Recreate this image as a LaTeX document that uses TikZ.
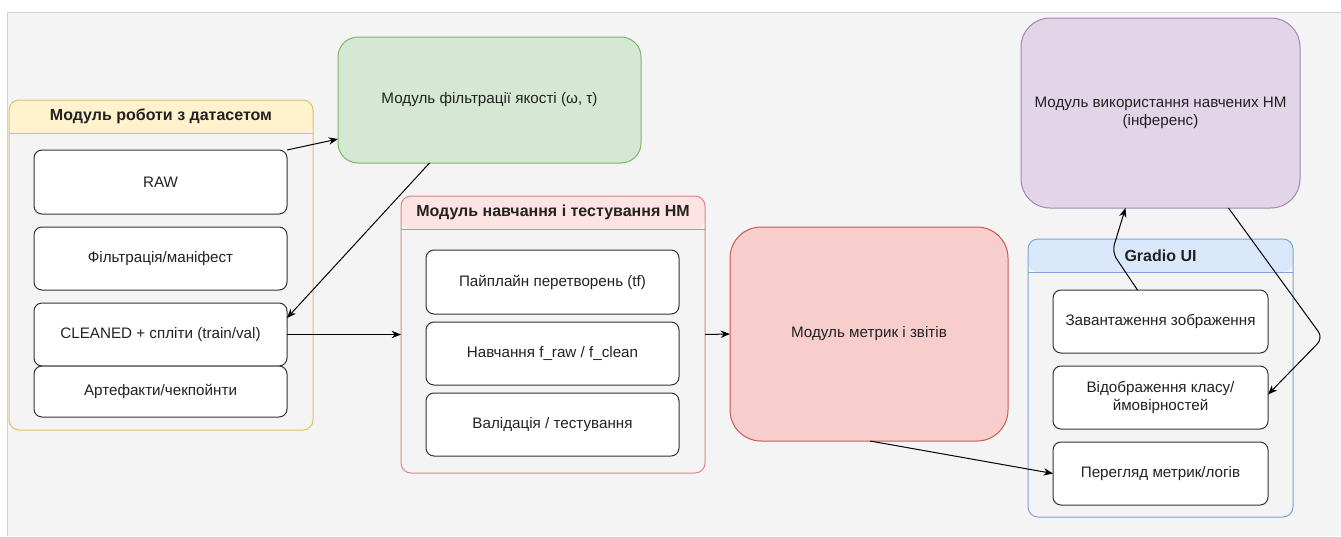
\documentclass[tikz,border=0pt]{standalone}
\usepackage{fontspec}
\setmainfont{Liberation Sans}
\usetikzlibrary{arrows.meta,calc}

\definecolor{canvasbg}{HTML}{F4F4F4}
\definecolor{canvasline}{HTML}{D0D0D0}
\definecolor{textc}{HTML}{222222}
\definecolor{boxline}{HTML}{333333}
\definecolor{dsfill}{HTML}{FFF2CC}
\definecolor{dsline}{HTML}{E2C264}
\definecolor{grfill}{HTML}{D5E8D4}
\definecolor{grline}{HTML}{82B366}
\definecolor{trfill}{HTML}{FDE3E3}
\definecolor{trline}{HTML}{E08585}
\definecolor{mtfill}{HTML}{F8CECC}
\definecolor{mtline}{HTML}{C85A55}
\definecolor{pufill}{HTML}{E1D5E7}
\definecolor{puline}{HTML}{A385B5}
\definecolor{uifill}{HTML}{DAE8FC}
\definecolor{uiline}{HTML}{7FA3D6}

\newcommand{\txtsize}{\fontsize{11.4}{13.6}\selectfont}
\newcommand{\ttlsize}{\fontsize{12}{14}\selectfont}

\tikzset{
  every node/.style={font=\txtsize, text=textc, align=center, inner sep=0pt, outer sep=0pt},
  itembox/.style args={#1x#2}{draw=boxline, line width=0.75pt, fill=white,
    rounded corners=6pt, minimum width=#1*0.75pt, minimum height=#2*0.75pt},
  module/.style n args={3}{line width=0.75pt, rounded corners=#3*0.75pt,
    minimum width=#1*0.75pt, minimum height=#2*0.75pt},
  lane/.style n args={4}{draw=#2, line width=0.75pt, rounded corners=7.5pt,
    minimum width=#3*0.75pt, minimum height=#4*0.75pt,
    path picture={\fill[#1] (path picture bounding box.north west) rectangle
      ([yshift=-33*0.75pt]path picture bounding box.north east);
      \draw[#2, line width=0.75pt] ([yshift=-33*0.75pt]path picture bounding box.north west) --
      ([yshift=-33*0.75pt]path picture bounding box.north east);}},
  lanetitle/.style={font=\ttlsize\bfseries},
  flow/.style={draw=black, line width=0.75pt, -{Stealth[length=7pt,width=5.5pt]}},
}

\begin{document}
\begin{tikzpicture}[x=0.75pt, y=-0.75pt]
\useasboundingbox (0,0) rectangle (1341,536);
\fill[white] (0,0) rectangle (1341,536);
\fill[canvasbg] (7,12) rectangle (1341,536);
\draw[canvasline, line width=0.75pt] (7,536) -- (7,12) -- (1341,12);

% dataset lane
\node[lane={dsfill}{dsline}{304}{330}] (ds) at (161,265) {};
\node[lanetitle] (dstitle) at (161,116.5) {Модуль роботи з датасетом};
\node[itembox=253x64] (raw) at (160.5,182) {RAW};
\node[itembox=253x63] (filt) at (160.5,258.5) {Фільтрація/маніфест};
\node[itembox=253x63] (clean) at (160.5,334.5) {CLEANED + спліти (train/val)};
\node[itembox=253x51] (art) at (160.5,391.5) {Артефакти/чекпойнти};

% quality filter module
\node[module={303}{126}{20}, draw=grline, fill=grfill] (qual) at (489.5,100) {Модуль фільтрації якості (ω, τ)};

% training lane
\node[lane={trfill}{trline}{304}{277}] (train) at (553,334.5) {};
\node[lanetitle] (trtitle) at (553,212.5) {Модуль навчання і тестування НМ};
\node[itembox=253x64] (pipe) at (552.5,282) {Пайплайн перетворень (tf)};
\node[itembox=253x63] (fit) at (552.5,353.5) {Навчання f\_raw / f\_clean};
\node[itembox=253x63] (valid) at (552.5,424.5) {Валідація / тестування};

% metrics module
\node[module={278}{214}{31}, draw=mtline, fill=mtfill] (metrics) at (869,334) {Модуль метрик і звітів};

% inference module
\node[module={279}{190}{29}, draw=puline, fill=pufill] (infer) at (1160.5,113)
  {Модуль використання навчених НМ\\(інференс)};

% Gradio lane
\node[lane={uifill}{uiline}{265}{278}] (ui) at (1160.5,378) {};
\node[lanetitle] (uititle) at (1160.5,255.5) {Gradio UI};
\node[itembox=215x63] (upload) at (1160.5,321.5) {Завантаження зображення};
\node[itembox=215x63] (show) at (1160.5,397.5) {Відображення класу/\\ймовірностей};
\node[itembox=215x63] (logs) at (1160.5,473.5) {Перегляд метрик/логів};

% connectors
\coordinate (bendA) at (1112,252);
\coordinate (bendB) at (1323,338);
\draw[flow] (raw.north east) -- ($(qual.south west)+(0,-24)$);
\draw[flow] ($(qual.south)+(-60,0)$) -- ($(clean.north east)+(0,15)$);
\draw[flow] (clean.east) -- (train.west);
\draw[flow] (train.east) -- (metrics.west);
\draw[flow] ($(metrics.south)+(1,0)$) -- (logs.west);
\draw[flow, rounded corners=6pt] ($(upload.north)+(-23,0)$) -- (bendA) -- ($(infer.south)+(-35,0)$);
\draw[flow, rounded corners=6pt] ($(infer.south)+(68,0)$) -- (bendB) -- ($(show.east)+(0,-3)$);
\end{tikzpicture}
\end{document}
